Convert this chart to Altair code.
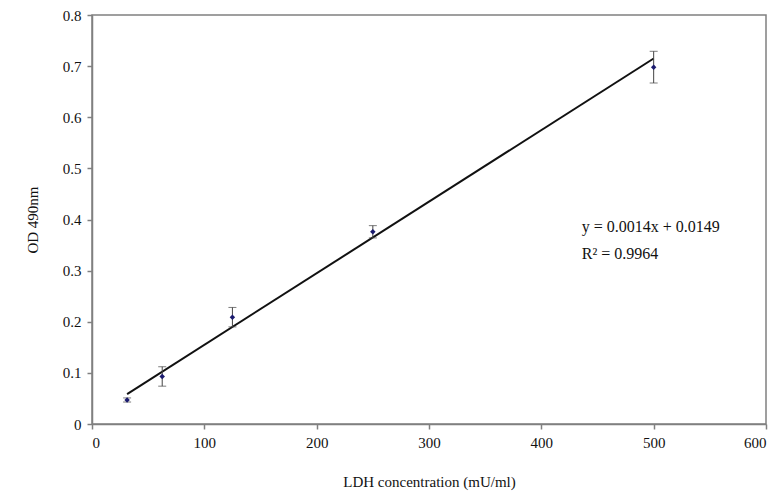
import altair as alt
import pandas as pd

conc = [31.25, 62.5, 125, 250, 500]
od = [0.047, 0.093, 0.209, 0.376, 0.698]
err = [0.004, 0.019, 0.019, 0.012, 0.031]

line_x = [31.25, 500]
line_y = [0.0586, 0.7149]

eq_lines = ["y = 0.0014x + 0.0149", "R² = 0.9964"]
eq_x = [436, 436]
eq_y = [0.386, 0.333]

df = pd.DataFrame({"conc": conc, "od": od, "lo": [o - e for o, e in zip(od, err)],
                   "hi": [o + e for o, e in zip(od, err)]})
ldf = pd.DataFrame({"conc": line_x, "od": line_y})
tdf = pd.DataFrame({"conc": eq_x, "od": eq_y, "t": eq_lines})

xs = alt.Scale(domain=[0, 600], nice=False)
ys = alt.Scale(domain=[0, 0.8], nice=False)

xax = alt.Axis(values=[0, 100, 200, 300, 400, 500, 600], title="LDH concentration (mU/ml)",
               grid=False, titlePadding=24, labelPadding=6)
yax = alt.Axis(values=[0, 0.1, 0.2, 0.3, 0.4, 0.5, 0.6, 0.7, 0.8], title="OD 490nm",
               grid=False, format=".1~f", titlePadding=22, labelPadding=6)

base = alt.Chart(df)

line = alt.Chart(ldf).mark_line(color="#111111", strokeWidth=2).encode(
    x=alt.X("conc:Q", scale=xs, axis=xax),
    y=alt.Y("od:Q", scale=ys, axis=yax),
)

rules = base.mark_rule(color="#444444", strokeWidth=1).encode(
    x="conc:Q", y="lo:Q", y2="hi:Q")
cap_lo = base.mark_tick(color="#444444", thickness=1, size=8, orient="horizontal").encode(
    x="conc:Q", y="lo:Q")
cap_hi = base.mark_tick(color="#444444", thickness=1, size=8, orient="horizontal").encode(
    x="conc:Q", y="hi:Q")

pts = base.mark_point(shape="diamond", filled=True, color="#1a1a6e", size=30, opacity=1).encode(
    x="conc:Q", y="od:Q")

txt = alt.Chart(tdf).mark_text(align="left", baseline="middle", font="Liberation Serif",
                               fontSize=16, color="#111111").encode(
    x="conc:Q", y="od:Q", text="t:N")

chart = alt.layer(line, rules, cap_lo, cap_hi, pts, txt).properties(
    width=674, height=409,
    autosize=alt.AutoSizeParams(type="none"),
    padding={"left": 84, "top": 7, "right": 9, "bottom": 69},
).configure_view(stroke="#808080", strokeWidth=1.5).configure_axis(
    domainColor="#808080", tickColor="#808080", domainWidth=1.5, tickWidth=1.5, tickSize=5,
    labelFont="Liberation Serif", titleFont="Liberation Serif", labelFontSize=15,
    titleFontSize=15, titleFontWeight="normal", labelColor="#111111", titleColor="#111111",
)

chart.save("out.html", embed_options={"renderer": "svg", "actions": False})
